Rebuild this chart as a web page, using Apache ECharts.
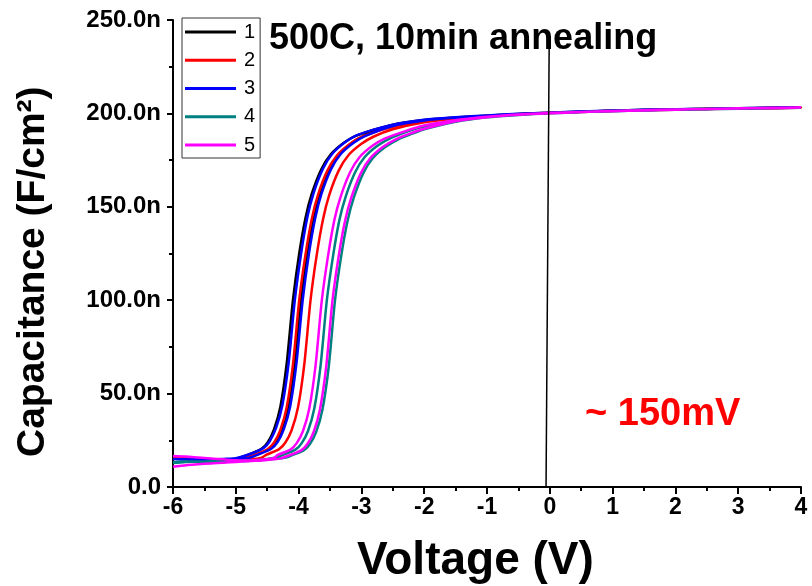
<!DOCTYPE html>
<html>
<head>
<meta charset="utf-8">
<script src="https://cdn.jsdelivr.net/npm/echarts@6/dist/echarts.min.js"></script>
<style>
  html, body { margin: 0; padding: 0; background: #fff; }
  #chart { width: 812px; height: 586px; }
</style>
</head>
<body>
<div id="chart"></div>
<script>
// C-V sweeps after 500C / 10 min annealing: each sample is a double sweep
// (up branch then down branch), voltage in V, capacitance in nF/cm^2.
const seriesNames = ['1', '2', '3', '4', '5'];
const seriesColors = ['#000000', '#ff0000', '#0000ff', '#008080', '#ff00ff'];

const sweep1Up = [
  [-6, 15.6], [-5.8, 15.1], [-5.6, 14.6], [-5.4, 14.4], [-5.2, 14.7], [-5.0, 15.2],
  [-4.79, 17.5], [-4.59, 20.5], [-4.49, 24], [-4.39, 31], [-4.29, 43], [-4.19, 66],
  [-4.09, 100], [-3.99, 125], [-3.89, 144], [-3.79, 157], [-3.64, 170], [-3.49, 178],
  [-3.29, 184], [-3.09, 188], [-2.5, 194], [-2.0, 196.5], [-1.5, 197.8], [-1.0, 198.8],
  [-0.5, 199.7], [0, 200.4], [0.5, 200.9], [1, 201.5], [1.5, 201.8], [2, 202.2],
  [2.5, 202.4], [3, 202.8], [3.5, 202.9], [4, 203.1]
];
const sweep1Down = [
  [-6, 15.2], [-5.8, 15.0], [-5.6, 14.8], [-5.4, 14.5], [-5.2, 14.6], [-5.0, 14.9], [-4.8, 15.8],
  [-4.66, 17.5], [-4.46, 20.5], [-4.36, 24], [-4.26, 31], [-4.16, 43], [-4.06, 66],
  [-3.96, 100], [-3.86, 125], [-3.76, 144], [-3.66, 157], [-3.51, 170], [-3.36, 178],
  [-3.16, 184], [-2.96, 188], [-2.5, 193.5], [-2.0, 196.3], [-1.5, 197.7], [-1.0, 198.7],
  [-0.5, 199.6], [0, 200.3], [0.5, 201.0], [1, 201.4], [1.5, 201.9], [2, 202.1],
  [2.5, 202.5], [3, 202.7], [3.5, 203.0], [4, 203.2]
];
const sweep2Up = [
  [-6, 16.0], [-5.8, 15.6], [-5.6, 15.2], [-5.4, 14.8], [-5.2, 14.6], [-5.0, 14.9], [-4.9, 15.4],
  [-4.69, 17.3], [-4.49, 20.3], [-4.39, 23.8], [-4.29, 30.5], [-4.19, 42.5], [-4.09, 65.5],
  [-3.99, 100], [-3.89, 124.5], [-3.79, 143.5], [-3.69, 156.5], [-3.54, 169.5], [-3.39, 177.5],
  [-3.19, 183.5], [-2.99, 187.5], [-2.5, 193], [-2.0, 196], [-1.5, 197.5], [-1.0, 198.6],
  [-0.5, 199.5], [0, 200.2], [0.5, 200.8], [1, 201.3], [1.5, 201.7], [2, 202.0],
  [2.5, 202.4], [3, 202.6], [3.5, 202.9], [4, 203.0]
];
const sweep2Down = [
  [-6, 15.4], [-5.8, 15.1], [-5.6, 14.7], [-5.4, 14.3], [-5.2, 14.2], [-5.0, 14.4], [-4.8, 14.8], [-4.6, 15.6],
  [-4.51, 17.3], [-4.31, 20.3], [-4.21, 23.8], [-4.11, 30.5], [-4.01, 42.5], [-3.91, 65.5],
  [-3.81, 100], [-3.71, 124.5], [-3.61, 143.5], [-3.51, 156.5], [-3.36, 169.5], [-3.21, 177.5],
  [-3.01, 183.5], [-2.81, 187.5], [-2.5, 191.5], [-2.0, 195.3], [-1.5, 197.2], [-1.0, 198.5],
  [-0.5, 199.5], [0, 200.3], [0.5, 200.8], [1, 201.4], [1.5, 201.7], [2, 202.1],
  [2.5, 202.3], [3, 202.7], [3.5, 202.8], [4, 203.1]
];
const sweep3Up = [
  [-6, 14.8], [-5.8, 14.9], [-5.6, 14.3], [-5.4, 14.6], [-5.2, 15.0], [-5.0, 15.4],
  [-4.76, 17.8], [-4.56, 20.8], [-4.46, 24.5], [-4.36, 31.5], [-4.26, 43.5], [-4.16, 66],
  [-4.06, 100], [-3.96, 125], [-3.86, 144.5], [-3.76, 157.5], [-3.61, 170.5], [-3.46, 178.5],
  [-3.26, 184.5], [-3.06, 188.5], [-2.5, 194], [-2.0, 196.6], [-1.5, 197.9], [-1.0, 198.9],
  [-0.5, 199.8], [0, 200.4], [0.5, 201.0], [1, 201.5], [1.5, 201.9], [2, 202.2],
  [2.5, 202.5], [3, 202.8], [3.5, 203.0], [4, 203.2]
];
const sweep3Down = [
  [-6, 15.0], [-5.8, 14.7], [-5.6, 14.9], [-5.4, 14.4], [-5.2, 14.7], [-5.0, 15.0], [-4.8, 15.6],
  [-4.635, 17.5], [-4.435, 20.5], [-4.335, 24], [-4.235, 31], [-4.135, 43], [-4.035, 66],
  [-3.935, 100], [-3.835, 125], [-3.735, 144], [-3.635, 157], [-3.485, 170], [-3.335, 178],
  [-3.135, 184], [-2.935, 188], [-2.5, 193.3], [-2.0, 196.2], [-1.5, 197.7], [-1.0, 198.8],
  [-0.5, 199.7], [0, 200.4], [0.5, 200.9], [1, 201.5], [1.5, 201.8], [2, 202.2],
  [2.5, 202.4], [3, 202.8], [3.5, 203.0], [4, 203.2]
];
const sweep4Up = [
  [-6, 12.8], [-5.8, 13.4], [-5.6, 13.6], [-5.4, 13.5], [-5.2, 13.7], [-5.0, 13.9], [-4.8, 14.1], [-4.6, 14.6], [-4.4, 15.5],
  [-4.25, 17.2], [-4.05, 20], [-3.95, 23.5], [-3.85, 30], [-3.75, 42], [-3.65, 65],
  [-3.55, 100], [-3.45, 124], [-3.35, 143], [-3.25, 155.5], [-3.10, 168.5], [-2.95, 176.5],
  [-2.75, 182.5], [-2.55, 186.5], [-2.25, 190.5], [-2.0, 193], [-1.5, 196], [-1.0, 198],
  [-0.5, 199.3], [0, 200.1], [0.5, 200.7], [1, 201.3], [1.5, 201.7], [2, 202.0],
  [2.5, 202.3], [3, 202.6], [3.5, 202.8], [4, 203.0]
];
const sweep4Down = [
  [-6, 13.2], [-5.8, 13.7], [-5.6, 13.5], [-5.4, 13.8], [-5.2, 13.9], [-5.0, 14.0], [-4.8, 14.2], [-4.6, 14.5], [-4.4, 15.0], [-4.2, 15.8],
  [-4.12, 16.8], [-3.92, 19.6], [-3.82, 23], [-3.72, 29.5], [-3.62, 41.5], [-3.52, 64.5],
  [-3.42, 100], [-3.32, 124], [-3.22, 142.5], [-3.12, 155], [-2.97, 168], [-2.82, 176],
  [-2.62, 182], [-2.42, 186], [-2.2, 189], [-2.0, 191.5], [-1.5, 195.5], [-1.0, 197.9],
  [-0.5, 199.2], [0, 200.1], [0.5, 200.7], [1, 201.2], [1.5, 201.6], [2, 202.0],
  [2.5, 202.3], [3, 202.5], [3.5, 202.8], [4, 203.0]
];
const sweep5Up = [
  [-6, 16.6], [-5.8, 16.3], [-5.6, 15.8], [-5.4, 15.3], [-5.2, 14.8], [-5.0, 14.3], [-4.8, 14.2], [-4.6, 14.6], [-4.4, 15.4],
  [-4.33, 17.2], [-4.13, 20], [-4.03, 23.5], [-3.93, 30], [-3.83, 42], [-3.73, 65],
  [-3.63, 100], [-3.53, 124], [-3.43, 143], [-3.33, 155.5], [-3.18, 168.5], [-3.03, 176.5],
  [-2.83, 182.5], [-2.63, 186.5], [-2.3, 190.5], [-2.0, 193.5], [-1.5, 196.3], [-1.0, 198.2],
  [-0.5, 199.4], [0, 200.2], [0.5, 200.8], [1, 201.3], [1.5, 201.7], [2, 202.1],
  [2.5, 202.4], [3, 202.7], [3.5, 202.9], [4, 203.1]
];
const sweep5Down = [
  [-6, 10.8], [-5.9, 11.3], [-5.7, 11.9], [-5.5, 12.4], [-5.3, 12.8], [-5.1, 13.2], [-4.9, 13.6], [-4.7, 14.0], [-4.5, 14.5], [-4.3, 15.2],
  [-4.16, 16.8], [-3.96, 19.6], [-3.86, 23], [-3.76, 29.5], [-3.66, 41.5], [-3.56, 64.5],
  [-3.46, 100], [-3.36, 124], [-3.26, 142.5], [-3.16, 155], [-3.01, 168], [-2.86, 176],
  [-2.66, 182], [-2.46, 186], [-2.2, 189.5], [-2.0, 191.8], [-1.5, 195.8], [-1.0, 198.0],
  [-0.5, 199.3], [0, 200.1], [0.5, 200.7], [1, 201.2], [1.5, 201.6], [2, 202.0],
  [2.5, 202.3], [3, 202.6], [3.5, 202.8], [4, 203.0]
];

// Reference marker drawn near 0 V
const markerLine = [[-0.01, 237], [-0.06, 0]];

// Axis ticks
const xTicks = [-6, -5, -4, -3, -2, -1, 0, 1, 2, 3, 4];
const yTicks = [0, 50, 100, 150, 200, 250];
const yTickLabels = ['0.0', '50.0n', '100.0n', '150.0n', '200.0n', '250.0n'];

const titleText = '500C, 10min annealing';
const shiftText = '~ 150mV';
const xName = 'Voltage (V)';
const yName = 'Capacitance (F/cm\u00B2)';

const FONT = '"Liberation Sans", Arial, Helvetica, sans-serif';

const sweeps = [
  [sweep1Up, sweep1Down],
  [sweep2Up, sweep2Down],
  [sweep3Up, sweep3Down],
  [sweep4Up, sweep4Down],
  [sweep5Up, sweep5Down]
];

const lineSeries = sweeps.map(function (pair, i) {
  return {
    name: seriesNames[i],
    type: 'line',
    data: pair[0].concat(pair[1].slice().reverse()),
    showSymbol: false,
    symbol: 'none',
    smooth: 0.25,
    lineStyle: { color: seriesColors[i], width: 2.5 },
    itemStyle: { color: seriesColors[i] },
    z: 2 + i,
    silent: true,
    animation: false
  };
});

lineSeries.push({
  name: 'marker',
  type: 'line',
  data: markerLine,
  showSymbol: false,
  symbol: 'none',
  lineStyle: { color: '#000', width: 1.5 },
  z: 10,
  silent: true,
  animation: false
});

const chart = echarts.init(document.getElementById('chart'), null, { renderer: 'canvas' });

chart.setOption({
  backgroundColor: '#fff',
  animation: false,
  grid: { left: 173, right: 11, top: 20, bottom: 99, containLabel: false },
  xAxis: {
    type: 'value',
    min: xTicks[0],
    max: xTicks[xTicks.length - 1],
    interval: 1,
    axisLine: { show: true, onZero: false, lineStyle: { color: '#000', width: 2 } },
    axisTick: { show: true, length: 7, lineStyle: { color: '#000', width: 2 } },
    minorTick: { show: true, splitNumber: 2, length: 4, lineStyle: { color: '#000', width: 2 } },
    splitLine: { show: false },
    axisLabel: {
      margin: 9,
      color: '#000',
      fontFamily: FONT,
      fontWeight: 'bold',
      fontSize: 23,
      formatter: function (v) { return String(v); }
    }
  },
  yAxis: {
    type: 'value',
    min: yTicks[0],
    max: yTicks[yTicks.length - 1],
    interval: 50,
    axisLine: { show: true, onZero: false, lineStyle: { color: '#000', width: 2 } },
    axisTick: { show: true, length: 6, lineStyle: { color: '#000', width: 2 } },
    minorTick: { show: true, splitNumber: 2, length: 4, lineStyle: { color: '#000', width: 2 } },
    splitLine: { show: false },
    axisLabel: {
      margin: 12,
      color: '#000',
      fontFamily: FONT,
      fontWeight: 'bold',
      fontSize: 24,
      formatter: function (v) {
        const k = yTicks.indexOf(v);
        return k >= 0 ? yTickLabels[k] : '';
      }
    }
  },
  legend: {
    data: seriesNames,
    orient: 'vertical',
    left: 182,
    top: 18,
    padding: [4, 5, 3, 3],
    itemGap: 8.25,
    itemWidth: 51,
    itemHeight: 3,
    icon: 'rect',
    backgroundColor: '#fff',
    borderColor: '#333',
    borderWidth: 1,
    borderRadius: 0,
    selectedMode: false,
    textStyle: { color: '#000', fontFamily: FONT, fontSize: 20, lineHeight: 20, padding: [0, 0, 0, 3] }
  },
  graphic: [
    {
      type: 'text',
      left: 269,
      top: 21,
      z: 20,
      style: { text: titleText, fill: '#000', font: 'bold 36px ' + FONT }
    },
    {
      type: 'text',
      left: 585,
      top: 396,
      z: 20,
      style: { text: shiftText, fill: '#ff0000', font: 'bold 38px ' + FONT }
    },
    {
      type: 'text',
      left: 357,
      top: 538,
      z: 20,
      style: { text: xName, fill: '#000', font: 'bold 46px ' + FONT }
    },
    {
      type: 'text',
      x: 14,
      y: 457,
      rotation: Math.PI / 2,
      z: 20,
      style: { text: yName, fill: '#000', font: 'bold 39px ' + FONT, textVerticalAlign: 'top' }
    }
  ],
  series: lineSeries
});
</script>
</body>
</html>
